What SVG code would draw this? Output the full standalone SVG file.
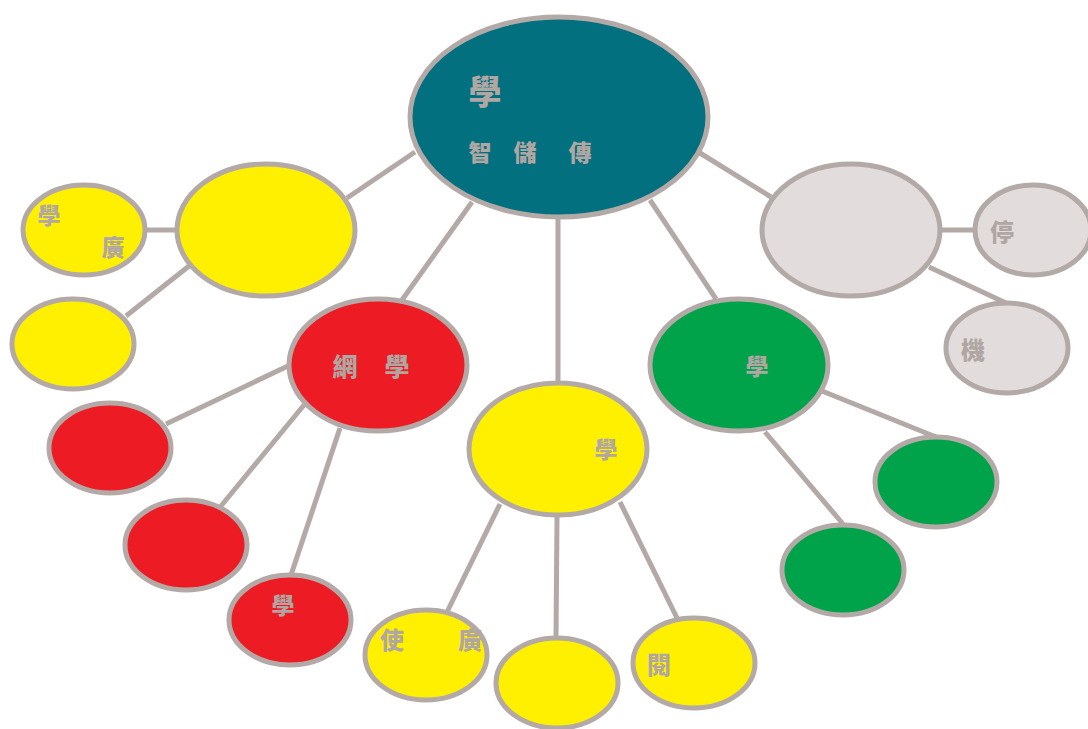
<svg xmlns="http://www.w3.org/2000/svg" width="1088" height="729" viewBox="0 0 1088 729">
<style>
.n{stroke:#b3a9a6;stroke-width:5}
.c{stroke:#b3a9a6;stroke-width:5;fill:none}
.t{fill:#b0a6a2;font-family:"Noto Sans CJK TC","Noto Sans CJK SC",sans-serif;font-weight:900;text-anchor:middle;dominant-baseline:central}
.teal{fill:#037080}.yel{fill:#fff000}.red{fill:#ed1c24}.grn{fill:#00a34a}.gry{fill:#e2dddc}
</style>
<rect width="1088" height="729" fill="#fff"/>
<g id="connectors">
<line class="c" x1="415" y1="152" x2="347" y2="198"/>
<line class="c" x1="472" y1="202" x2="402" y2="300"/>
<line class="c" x1="558" y1="218" x2="558" y2="382"/>
<line class="c" x1="650" y1="200" x2="716" y2="299"/>
<line class="c" x1="700" y1="153" x2="771" y2="197"/>
<line class="c" x1="145" y1="230" x2="177" y2="230"/>
<line class="c" x1="126" y1="316" x2="189" y2="266"/>
<line class="c" x1="290" y1="365" x2="166" y2="424"/>
<line class="c" x1="304" y1="405" x2="221" y2="506"/>
<line class="c" x1="340" y1="428" x2="291" y2="575"/>
<line class="c" x1="500" y1="504" x2="447" y2="612"/>
<line class="c" x1="557" y1="517" x2="556" y2="638"/>
<line class="c" x1="620" y1="502" x2="678" y2="620"/>
<line class="c" x1="822" y1="391" x2="936" y2="437"/>
<line class="c" x1="765" y1="432" x2="843" y2="524"/>
<line class="c" x1="941" y1="230" x2="975" y2="230"/>
<line class="c" x1="929" y1="267" x2="1006" y2="303"/>
</g>
<g id="center"><ellipse class="n teal" cx="559" cy="117" rx="149" ry="100"/>
<text class="t" x="485" y="90" font-size="33">學</text>
<text class="t" x="480" y="151" font-size="23">智</text>
<text class="t" x="525" y="151" font-size="23">儲</text>
<text class="t" x="580" y="151" font-size="23">傳</text></g>
<g id="yellowLeft"><ellipse class="n yel" cx="266" cy="230" rx="89" ry="66"/></g>
<g id="yl1"><ellipse class="n yel" cx="84" cy="230" rx="61" ry="45"/>
<text class="t" x="49" y="214" font-size="23">學</text>
<text class="t" x="113" y="246" font-size="23">廣</text></g>
<g id="yl2"><ellipse class="n yel" cx="73" cy="344" rx="61" ry="45"/></g>
<g id="red"><ellipse class="n red" cx="378" cy="365" rx="89" ry="66"/>
<text class="t" x="345" y="365" font-size="25">網</text>
<text class="t" x="397" y="365" font-size="25">學</text></g>
<g id="r1"><ellipse class="n red" cx="110" cy="448" rx="61" ry="45"/></g>
<g id="r2"><ellipse class="n red" cx="186" cy="545" rx="61" ry="45"/></g>
<g id="r3"><ellipse class="n red" cx="290" cy="620" rx="61" ry="45"/>
<text class="t" x="283" y="604" font-size="23">學</text></g>
<g id="yellowMid"><ellipse class="n yel" cx="558" cy="449" rx="89" ry="66"/>
<text class="t" x="606" y="448" font-size="23">學</text></g>
<g id="ym1"><ellipse class="n yel" cx="426" cy="655" rx="61" ry="45"/>
<text class="t" x="392" y="638" font-size="24">使</text>
<text class="t" x="470" y="638" font-size="24">廣</text></g>
<g id="ym2"><ellipse class="n yel" cx="557" cy="683" rx="61" ry="45"/></g>
<g id="ym3"><ellipse class="n yel" cx="694" cy="663" rx="61" ry="45"/>
<text class="t" x="659" y="663" font-size="24">閱</text></g>
<g id="green"><ellipse class="n grn" cx="739" cy="365" rx="89" ry="66"/>
<text class="t" x="757" y="365" font-size="23">學</text></g>
<g id="g1"><ellipse class="n grn" cx="936" cy="482" rx="61" ry="45"/></g>
<g id="g2"><ellipse class="n grn" cx="843" cy="570" rx="61" ry="45"/></g>
<g id="gray"><ellipse class="n gry" cx="851" cy="230" rx="89" ry="66"/></g>
<g id="gr1"><ellipse class="n gry" cx="1033" cy="230" rx="58" ry="45"/>
<text class="t" x="1002" y="230" font-size="24">停</text></g>
<g id="gr2"><ellipse class="n gry" cx="1007" cy="348" rx="61" ry="45"/>
<text class="t" x="973" y="348" font-size="24">機</text></g>
</svg>
